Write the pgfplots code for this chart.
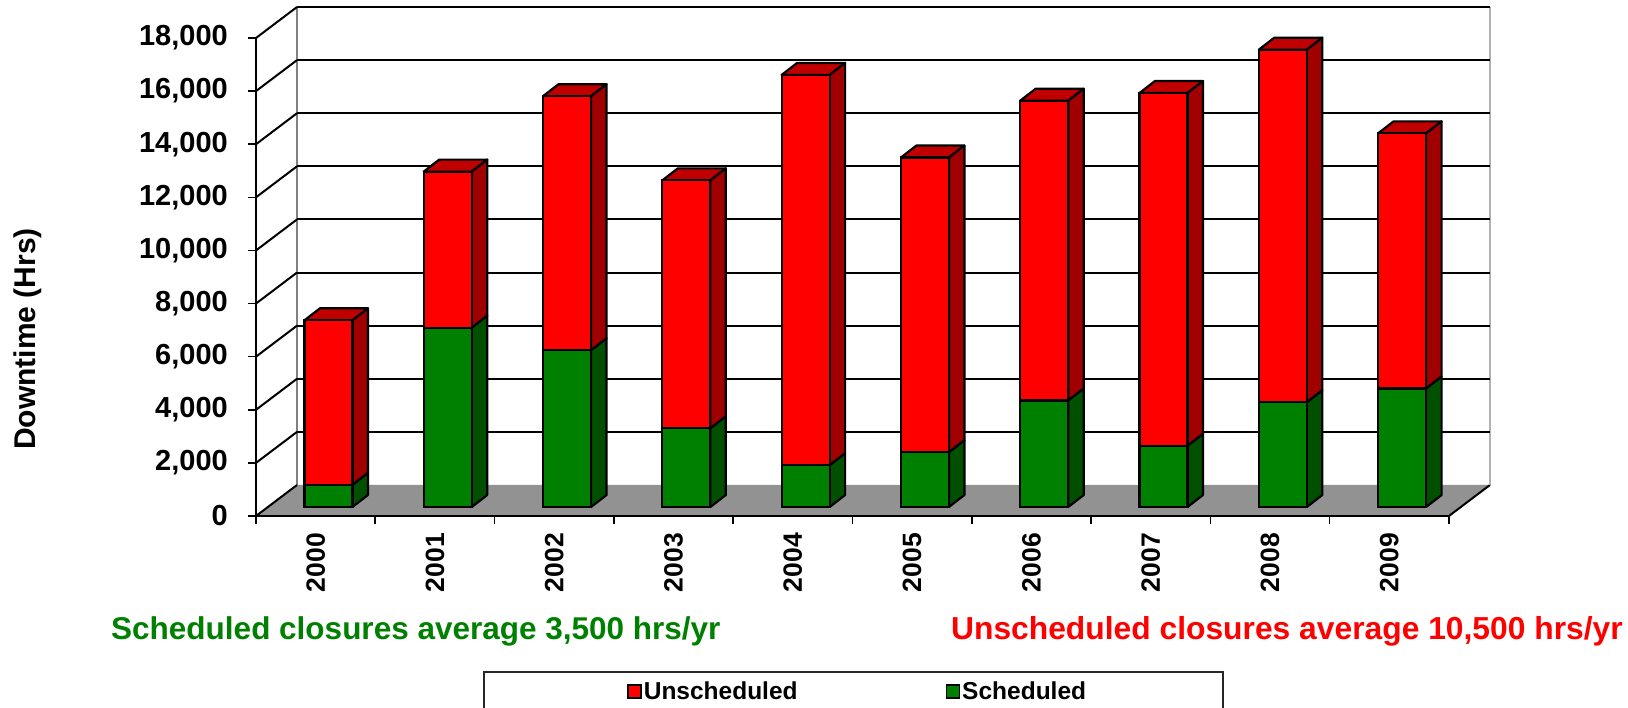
\documentclass[border=0pt]{standalone}
\usepackage{fontspec}
\setmainfont{Liberation Sans}
\usepackage{pgfplots}
\usepackage{pgfplotstable}
\pgfplotsset{compat=1.18}
\definecolor{rfront}{RGB}{255,0,0}
\definecolor{rtop}{RGB}{192,0,0}
\definecolor{rside}{RGB}{160,0,0}
\definecolor{gfront}{RGB}{0,128,0}
\definecolor{gside}{RGB}{0,80,0}
\definecolor{floorgray}{RGB}{146,146,146}
\definecolor{gtext}{RGB}{0,128,0}

\pgfplotstableread{
x s u
0 830 6200
1 6750 5880
2 5900 9570
3 2960 9340
4 1570 14700
5 2060 11100
6 4010 11290
7 2300 13290
8 3940 13280
9 4460 9610
}\data

\pgfplotsset{frame3d/.style={
  at={(256pt,191pt)}, anchor=south west,
  scale only axis, width=1193pt, height=478pt,
  xmin=-0.5, xmax=9.5, ymin=0, ymax=18000, clip=false}}

\begin{document}
\begin{tikzpicture}
\useasboundingbox (0,0) rectangle (1628pt,707pt);
% ---------- background: floor, walls, gridlines ----------
\begin{axis}[frame3d, axis lines=none, xtick=\empty, ytick=\empty]
\fill[floorgray] (axis cs:-0.5,0) -- (axis cs:9.5,0) -- ++(41pt,31pt)
   -- ([shift={(41pt,31pt)}]axis cs:-0.5,0) -- cycle;
\draw[black, line width=2pt] (axis cs:9.5,0) -- ++(41pt,31pt);
\draw[gray, line width=2pt] ([shift={(41pt,31pt)}]axis cs:-0.5,0) -- ([shift={(41pt,31pt)}]axis cs:-0.5,18000);
\draw[gray!60, line width=2pt] ([shift={(41pt,31pt)}]axis cs:9.5,0) -- ([shift={(41pt,31pt)}]axis cs:9.5,18000);
\pgfplotsinvokeforeach{2000,4000,6000,8000,10000,12000,14000,16000,18000}{
  \draw[black, line width=2pt] ([shift={(41pt,31pt)}]axis cs:-0.5,#1) -- ++(1193pt,0pt);
}
\pgfplotsinvokeforeach{0,2000,4000,6000,8000,10000,12000,14000,16000,18000}{
  \draw[black, line width=2pt] (axis cs:-0.5,#1) -- ++(41pt,31pt);
}
\end{axis}
% ---------- bars, axes, ticks ----------
\begin{axis}[frame3d,
  axis lines*=left,
  axis line style={-, black, line width=2pt},
  ybar stacked, bar width=48pt, bar shift=12.8pt,
  xtick={-0.5,0.5,1.5,2.5,3.5,4.5,5.5,6.5,7.5,8.5,9.5}, xticklabels={},
  extra x ticks={0,1,2,3,4,5,6,7,8,9},
  extra x tick labels={2000,2001,2002,2003,2004,2005,2006,2007,2008,2009},
  extra x tick style={major tick length=0pt},
  xticklabel style={yshift=-17pt, rotate=90, anchor=east, inner sep=0pt,
       font=\fontsize{26.5pt}{30pt}\selectfont\bfseries},
  ytick={0,2000,4000,6000,8000,10000,12000,14000,16000,18000},
  scaled y ticks=false,
  /pgf/number format/1000 sep={,},
  /pgf/number format/assume math mode=true,
  tick align=outside, major tick length=8pt,
  tick style={black, line width=1.6pt},
  yticklabel style={anchor=east, inner sep=0pt, xshift=-20pt,
     font=\fontsize{29pt}{34pt}\selectfont\bfseries},
  legend style={at={(0.311,-0.3672)}, anchor=west, draw=none, fill=none,
     inner sep=0pt, nodes={inner sep=2pt},
     /tikz/every even column/.append style={column sep=146pt},
     font=\fontsize{24.5pt}{28pt}\selectfont\bfseries},
  legend columns=2, legend cell align=left, reverse legend,
  legend image code/.code={\draw[#1, line width=1.6pt] (0pt,-6.5pt) rectangle (13pt,6.5pt);},
]
% front faces (stacked bars, raised to the bars' depth plane)
\addplot[forget plot, draw=none, fill=none] table[x=x, y expr=338.9] {\data};
\addplot[fill=gfront, draw=black, line width=2.2pt] table[x=x, y=s] {\data};
\addlegendentry{Scheduled}
\addplot[fill=rfront, draw=black, line width=2.2pt] table[x=x, y=u] {\data};
\addlegendentry{Unscheduled}
% side and top faces
\pgfplotsinvokeforeach{0,1,2,3,4,5,6,7,8,9}{%
  \pgfplotstablegetelem{#1}{s}\of\data \let\vS\pgfplotsretval
  \pgfplotstablegetelem{#1}{u}\of\data \let\vU\pgfplotsretval
  \edef\vT{\the\numexpr\vS+\vU\relax}%
  \edef\barfaces{%
    \noexpand\filldraw[fill=gside, draw=black, line width=2.2pt, line join=round]
      ([shift={(36.8pt,9pt)}]axis cs:#1,0) -- ([shift={(52.3pt,21pt)}]axis cs:#1,0)
      -- ([shift={(52.3pt,21pt)}]axis cs:#1,\vS) -- ([shift={(36.8pt,9pt)}]axis cs:#1,\vS) -- cycle;
    \noexpand\filldraw[fill=rside, draw=black, line width=2.2pt, line join=round]
      ([shift={(36.8pt,9pt)}]axis cs:#1,\vS) -- ([shift={(52.3pt,21pt)}]axis cs:#1,\vS)
      -- ([shift={(52.3pt,21pt)}]axis cs:#1,\vT) -- ([shift={(36.8pt,9pt)}]axis cs:#1,\vT) -- cycle;
    \noexpand\filldraw[fill=rtop, draw=black, line width=2.2pt, line join=round]
      ([shift={(-11.2pt,9pt)}]axis cs:#1,\vT) -- ([shift={(4.3pt,21pt)}]axis cs:#1,\vT)
      -- ([shift={(52.3pt,21pt)}]axis cs:#1,\vT) -- ([shift={(36.8pt,9pt)}]axis cs:#1,\vT) -- cycle;
  }%
  \barfaces
}
\end{axis}
% y label
\node[rotate=90, font=\fontsize{30pt}{36pt}\selectfont\bfseries] at (28pt,368pt) {Downtime (Hrs)};
% annotations
\node[anchor=base west, inner sep=0pt, text=gtext, font=\fontsize{31.5pt}{36pt}\selectfont\bfseries]
  at (111pt,67pt) {Scheduled closures average 3,500 hrs/yr};
\node[anchor=base east, inner sep=0pt, text=red, font=\fontsize{31.8pt}{36pt}\selectfont\bfseries]
  at (1623pt,67pt) {Unscheduled closures average 10,500 hrs/yr};
% legend frame
\draw[line width=1.2pt, black!85] (484pt,35pt) rectangle (1223pt,-20pt);
\end{tikzpicture}
\end{document}
